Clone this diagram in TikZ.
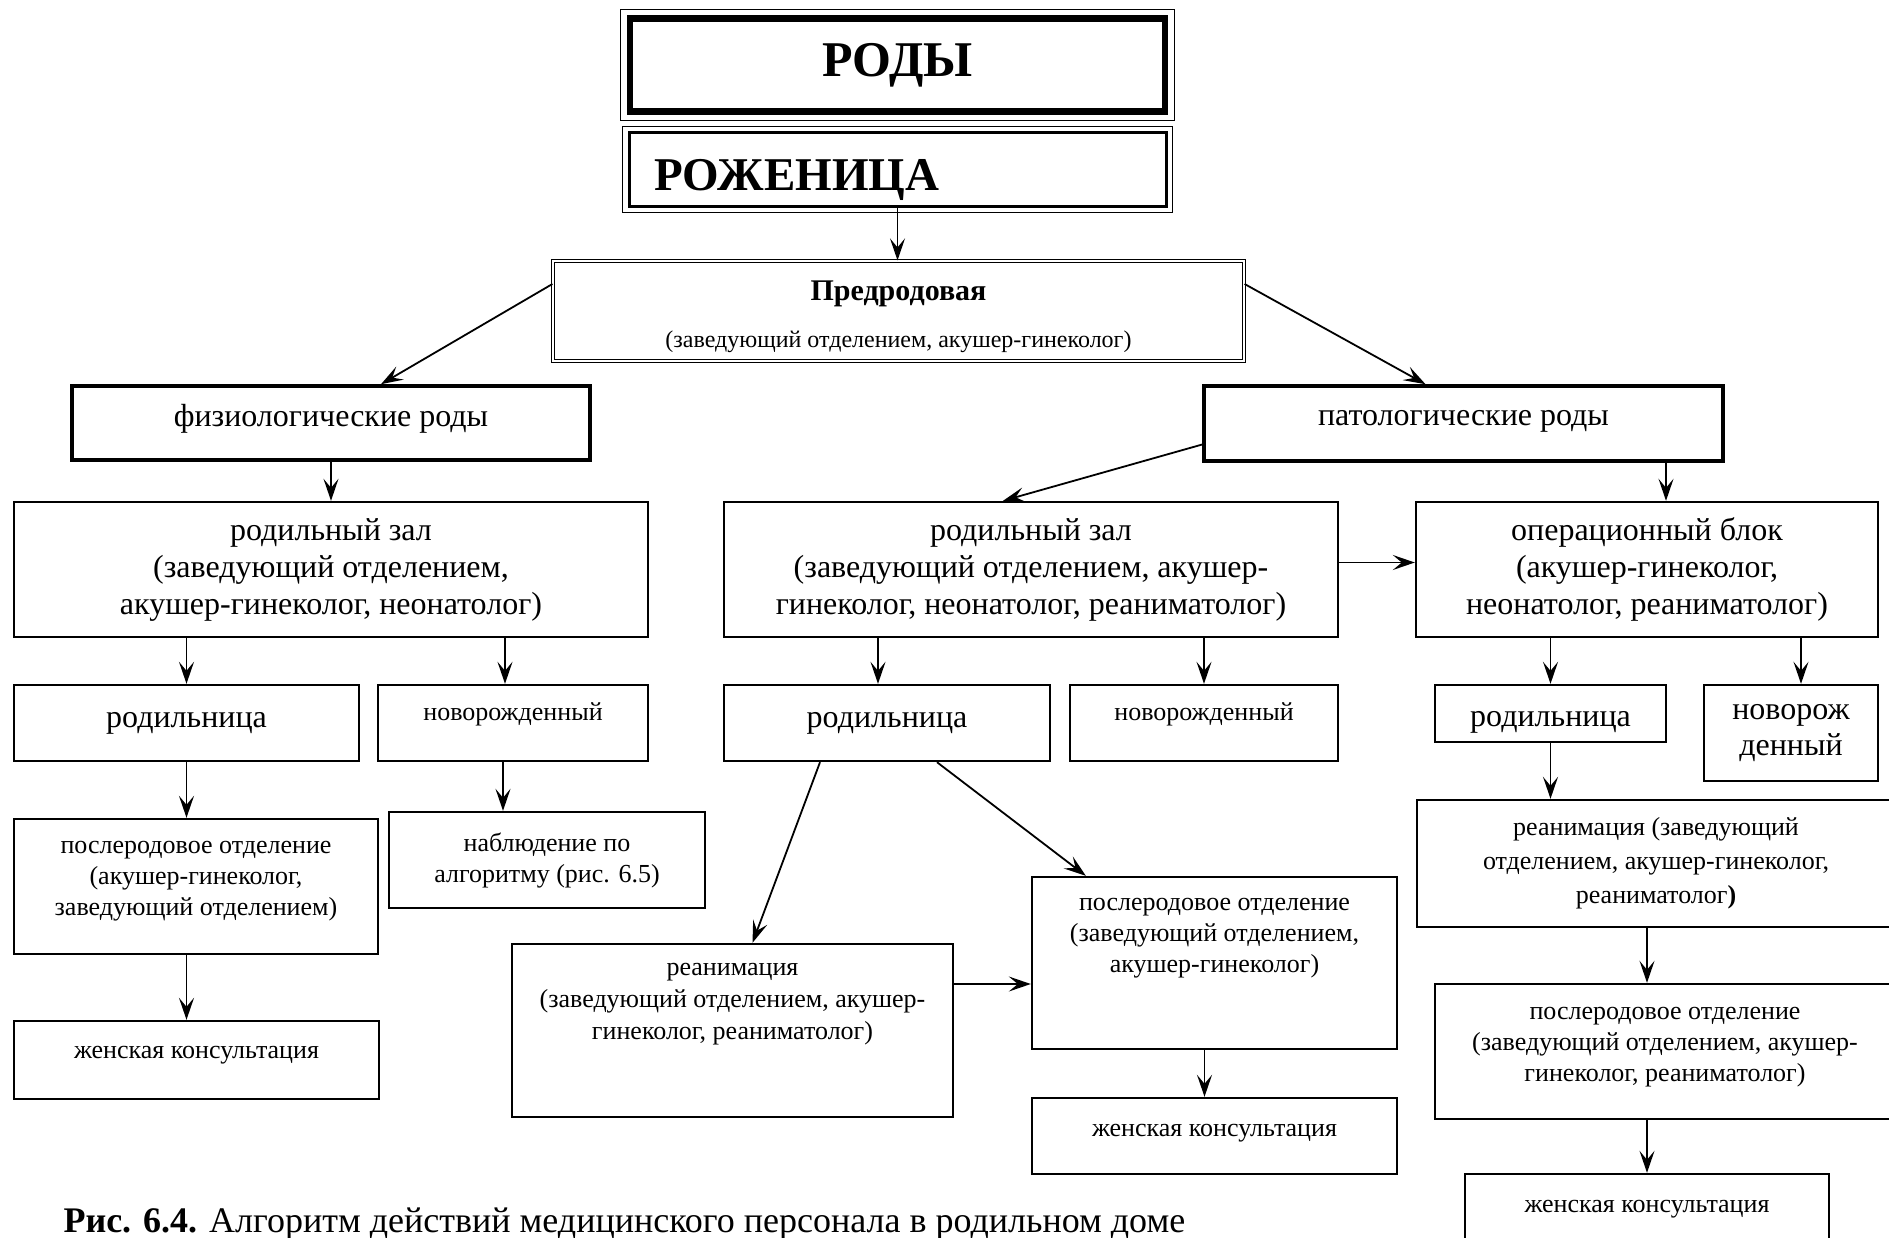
\documentclass[tikz,border=0pt]{standalone}
\usepackage{fontspec}
\setmainfont{Liberation Serif}
\usetikzlibrary{arrows.meta}

% empty strut with depth: pushes the text of a box upwards
\newcommand{\lift}[1]{\rule[-#1]{0pt}{#1}}

\begin{document}
\begin{tikzpicture}[x=1pt, y=-1pt,
    box/.style={draw, line width=2.4pt, align=center, inner sep=0pt},
    bigtxt/.style={font=\fontsize{32}{37}\selectfont},
    smalltxt/.style={font=\fontsize{26}{31}\selectfont},
    mainbox/.style={box, bigtxt, line width=3.6pt},
    arr/.style={line width=1.8pt, -{Stealth[length=22pt, width=15pt, inset=9pt]}}
  ]
  \useasboundingbox (0,0) rectangle (1889,1237);

  % title boxes
  \node[box, line width=6.5pt, minimum width=535pt, minimum height=93pt,
        font=\fontsize{50}{56}\bfseries] (rody) at (897.5,65) {РОДЫ};
  \draw[line width=1.3pt] ([shift={(-6pt,6pt)}]rody.north west) rectangle ([shift={(6pt,-6pt)}]rody.south east);
  \node[box, line width=3pt, minimum width=537pt, minimum height=73.5pt,
        text width=487pt, inner xsep=25pt, align=left, text height=53pt,
        font=\fontsize{47}{52}\bfseries] (rozh) at (897.5,169.5) {РОЖЕНИЦА};
  \draw[line width=1.3pt] ([shift={(-5pt,5pt)}]rozh.north west) rectangle ([shift={(5pt,-5pt)}]rozh.south east);
  \node[box, line width=1.2pt, double, double distance=2pt, minimum width=691pt, minimum height=100pt,
        font=\fontsize{30}{36}\bfseries] (predr) at (898.5,311)
    {\rule{0pt}{32pt}Предродовая\\[11pt]{\fontsize{24}{28}\mdseries (заведующий отделением, акушер-гинеколог)}};

  % physiological branch
  \node[mainbox, minimum width=518pt, minimum height=74pt] (fiz) at (331,423) {физиологические роды\lift{15pt}};
  \node[box, bigtxt, minimum width=634pt, minimum height=135pt] (rz1) at (331,569.5)
    {родильный зал\\(заведующий отделением,\\акушер-гинеколог, неонатолог)};
  \node[box, bigtxt, minimum width=345pt, minimum height=76pt] (rod1) at (186.5,723) {родильница};
  \node[box, smalltxt, minimum width=270pt, minimum height=76pt] (nov1) at (513,723) {новорожденный\lift{22pt}};
  \node[box, smalltxt, minimum width=364pt, minimum height=135pt] (posl1) at (196,886.5)
    {послеродовое отделение\\(акушер-гинеколог,\\заведующий отделением)\lift{16pt}};
  \node[box, smalltxt, minimum width=316pt, minimum height=96pt] (nabl) at (547,860)
    {наблюдение по\\алгоритму (рис. 6.5)};
  \node[box, smalltxt, minimum width=365pt, minimum height=78pt] (zk1) at (196.5,1060) {женская консультация\lift{16pt}};

  % pathological branch, delivery room
  \node[mainbox, minimum width=519pt, minimum height=75pt] (pat) at (1463.5,423.5) {патологические роды\lift{12pt}};
  \node[box, bigtxt, minimum width=614pt, minimum height=135pt] (rz2) at (1031,569.5)
    {родильный зал\\(заведующий отделением, акушер-\\гинеколог, неонатолог, реаниматолог)};
  \node[box, bigtxt, minimum width=326pt, minimum height=76pt] (rod2) at (887,723) {родильница};
  \node[box, smalltxt, minimum width=268pt, minimum height=76pt] (nov2) at (1204,723) {новорожденный\lift{22pt}};
  \node[box, font=\fontsize{26}{32}\selectfont, minimum width=441pt, minimum height=173pt] (rean2) at (732.5,1030.5)
    {реанимация\\(заведующий отделением, акушер-\\гинеколог, реаниматолог)\lift{58pt}};
  \node[box, smalltxt, minimum width=365pt, minimum height=172pt] (posl2) at (1214.5,963)
    {послеродовое отделение\\(заведующий отделением,\\акушер-гинеколог)\lift{56pt}};
  \node[box, smalltxt, minimum width=365pt, minimum height=76pt] (zk2) at (1214.5,1136) {женская консультация\lift{12pt}};

  % pathological branch, operating unit
  \node[box, bigtxt, minimum width=462pt, minimum height=135pt] (op) at (1647,569.5)
    {операционный блок\\(акушер-гинеколог,\\неонатолог, реаниматолог)};
  \node[box, bigtxt, minimum width=231pt, minimum height=57pt, text height=33pt] (rod3) at (1550.5,713.5) {родильница};
  \node[box, font=\fontsize{32}{36}\selectfont, minimum width=174pt, minimum height=96pt] (nov3) at (1791,733)
    {новорож\\денный};
  \node[box, font=\fontsize{26}{34}\selectfont, minimum width=478pt, minimum height=127pt] (rean3) at (1656,863.5)
    {реанимация (заведующий\\отделением, акушер-гинеколог,\\реаниматолог\textbf{)}};
  \node[box, smalltxt, minimum width=460pt, minimum height=135pt] (posl3) at (1665,1051.5)
    {послеродовое отделение\\(заведующий отделением, акушер-\\гинеколог, реаниматолог)\lift{14pt}};
  \node[box, smalltxt, minimum width=364pt, minimum height=71pt] (zk3) at (1647,1209.5) {женская консультация};

  \node[font=\fontsize{36}{40}\selectfont, anchor=base west] (caption) at (60,1232)
    {\textbf{Рис. 6.4.} Алгоритм действий медицинского персонала в родильном доме};

  % connectors
  \draw[arr] (rozh.south) -- (rozh.south |- predr.north);
  \draw[arr] ([yshift=27pt]predr.west) -- ([xshift=50pt]fiz.north);
  \draw[arr] ([yshift=27pt]predr.east) -- ([xshift=-38pt]pat.north);
  \draw[arr] (fiz.south) -- (rz1.north);
  \draw[arr] (rz1.south -| rod1.north) -- (rod1.north);
  \draw[arr] ([xshift=-8pt]nov1.north |- rz1.south) -- ([xshift=-8pt]nov1.north);
  \draw[arr] (rod1.south) -- (rod1.south |- posl1.north);
  \draw[arr] ([xshift=-10pt]nov1.south) -- ([xshift=-10pt]nov1.south |- nabl.north);
  \draw[arr] (posl1.south -| rod1.south) -- (zk1.north -| rod1.south);
  \draw[arr] ([yshift=-21pt]pat.west) -- ([xshift=-28pt]rz2.north);
  \draw[arr] ([xshift=19pt]op.north |- pat.south) -- ([xshift=19pt]op.north);
  \draw[arr] ([yshift=7pt]rz2.east) -- ([yshift=7pt]op.west);
  \draw[arr] ([xshift=-9pt]rod2.north |- rz2.south) -- ([xshift=-9pt]rod2.north);
  \draw[arr] (nov2.north |- rz2.south) -- (nov2.north);
  \draw[arr] ([xshift=-67pt]rod2.south) -- ([xshift=20pt]rean2.north);
  \draw[arr] ([xshift=50pt]rod2.south) -- ([xshift=55pt]posl2.north west);
  \draw[arr] ([yshift=-21pt]posl2.west -| rean2.east) -- ([yshift=-21pt]posl2.west);
  \draw[arr] ([xshift=-10pt]posl2.south) -- ([xshift=-10pt]zk2.north);
  \draw[arr] (rod3.north |- op.south) -- (rod3.north);
  \draw[arr] ([xshift=10pt]nov3.north |- op.south) -- ([xshift=10pt]nov3.north);
  \draw[arr] (rod3.south) -- (rod3.south |- rean3.north);
  \draw[arr] (zk3.north |- rean3.south) -- (zk3.north |- posl3.north);
  \draw[arr] (posl3.south -| zk3.north) -- (zk3.north);
\end{tikzpicture}
\end{document}
